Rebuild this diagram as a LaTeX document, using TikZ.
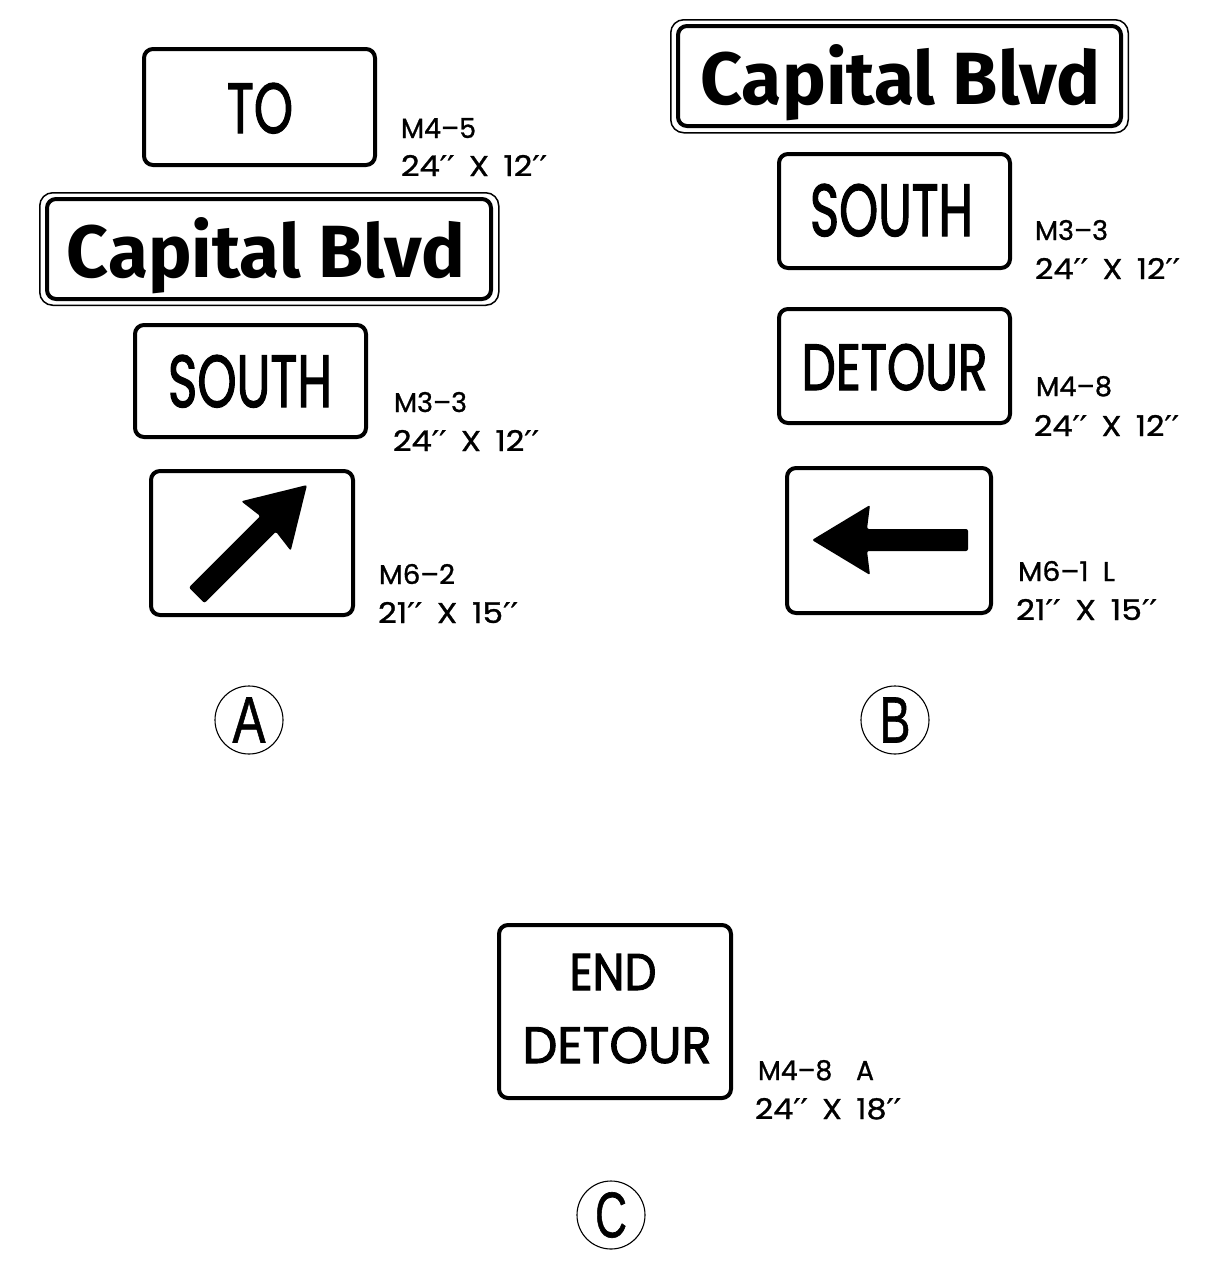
\documentclass[tikz,border=0pt]{standalone}
\usepackage{fontspec}
\usepackage{graphicx}
\newfontfamily\lblfont[FakeBold=1]{Poppins}
\newfontfamily\signfont[FakeBold=2]{Poppins}
\newfontfamily\blvdfont{Fira Sans}
\newfontfamily\circfont[FakeBold=1]{Liberation Sans}
\newfontfamily\primefont[FakeBold=1]{DejaVu Sans}
\newcommand\fitbox[3]{\resizebox{#1pt}{#2pt}{#3}}
\newcommand\pr{{\primefont ′′}}
\newcommand\gap{\hspace{0.45em}}
\begin{document}
\begin{tikzpicture}[x=1pt,y=-1pt,
  signbox/.style={draw=black, line width=4pt, rounded corners=9pt, fill=white, inner sep=0pt},
  outerbox/.style={draw=black, line width=1.5pt, rounded corners=13pt, inner sep=0pt},
  signtext/.style={inner sep=0pt, outer sep=0pt, anchor=base},
  lbl/.style={inner sep=0pt, outer sep=0pt, anchor=base west},
  tag/.style={circle, draw=black, line width=1.1pt, minimum size=68pt, inner sep=0pt},
  arrowshape/.style={fill=black, rounded corners=2pt}]
\useasboundingbox (0,0) rectangle (1208,1269);

% ---------------- Column A ----------------
\node[signbox, minimum width=231pt, minimum height=116pt] (toA) at (259.5,107) {};
\node[signtext] (toAtxt) at (260,133) {\fitbox{66}{50}{\signfont TO}};
\node[lbl] (toAl1) at (401,138) {\fitbox{75}{20}{\lblfont M4–5}};
\node[lbl] (toAl2) at (401,176) {\fitbox{146}{21}{\lblfont 24\pr\gap X\gap 12\pr}};

\node[outerbox, minimum width=459pt, minimum height=112.5pt] (capAo) at (269.25,249) {};
\node[signbox, minimum width=444pt, minimum height=100pt] (capAi) at (269,249) {};
\node[signtext] (capAtxt) at (266,277) {\fitbox{398}{60}{\blvdfont\bfseries Capital Blvd}};

\node[signbox, minimum width=231pt, minimum height=112pt] (southA) at (250.5,381) {};
\node[signtext] (southAtxt) at (250,407) {\fitbox{164}{52}{\signfont SOUTH}};
\node[lbl] (southAl1) at (394,412) {\fitbox{73}{20}{\lblfont M3–3}};
\node[lbl] (southAl2) at (393,451) {\fitbox{146}{21}{\lblfont 24\pr\gap X\gap 12\pr}};

\node[signbox, minimum width=202pt, minimum height=144pt] (arrA) at (252,543) {};
\begin{scope}[shift={(307,485)}, rotate=45]
  \fill[arrowshape] (0,0) -- (-58,35) -- (-55,11) -- (-156,11) -- (-156,-11) -- (-55,-11) -- (-58,-35) -- cycle;
\end{scope}
\node[lbl] (arrAl1) at (379,584) {\fitbox{76}{20}{\lblfont M6–2}};
\node[lbl] (arrAl2) at (378,623) {\fitbox{140}{21}{\lblfont 21\pr\gap X\gap 15\pr}};

\node[tag] (tagA) at (249,720) {\fitbox{33}{45}{\circfont A}};

% ---------------- Column B ----------------
\node[outerbox, minimum width=457.5pt, minimum height=113pt] (capBo) at (899.5,76.25) {};
\node[signbox, minimum width=443pt, minimum height=100pt] (capBi) at (899.5,76) {};
\node[signtext] (capBtxt) at (900.5,104) {\fitbox{400}{60}{\blvdfont\bfseries Capital Blvd}};

\node[signbox, minimum width=231pt, minimum height=114pt] (southB) at (894.5,211) {};
\node[signtext] (southBtxt) at (891.5,236) {\fitbox{163}{52}{\signfont SOUTH}};
\node[lbl] (southBl1) at (1035,240) {\fitbox{73}{20}{\lblfont M3–3}};
\node[lbl] (southBl2) at (1035,279) {\fitbox{145}{21}{\lblfont 24\pr\gap X\gap 12\pr}};

\node[signbox, minimum width=231pt, minimum height=114pt] (detB) at (894.5,366) {};
\node[signtext] (detBtxt) at (894.5,390) {\fitbox{186}{46}{\signfont DETOUR}};
\node[lbl] (detBl1) at (1036,396) {\fitbox{76}{20}{\lblfont M4–8}};
\node[lbl] (detBl2) at (1034,436) {\fitbox{145}{21}{\lblfont 24\pr\gap X\gap 12\pr}};

\node[signbox, minimum width=204pt, minimum height=145pt] (arrB) at (889,540.5) {};
\begin{scope}[shift={(812,540)}, rotate=180]
  \fill[arrowshape] (0,0) -- (-58,35) -- (-55,11) -- (-156,11) -- (-156,-11) -- (-55,-11) -- (-58,-35) -- cycle;
\end{scope}
\node[lbl] (arrBl1) at (1018,581) {\fitbox{97}{20}{\lblfont M6–1\hspace{0.5em}L}};
\node[lbl] (arrBl2) at (1016,620) {\fitbox{141}{21}{\lblfont 21\pr\gap X\gap 15\pr}};

\node[tag] (tagB) at (895,720) {\fitbox{31}{45}{\circfont B}};

% ---------------- Column C ----------------
\node[signbox, minimum width=232pt, minimum height=173pt] (endC) at (615,1011.5) {};
\node[signtext] (endCtxt1) at (613,990) {\fitbox{87}{36}{\signfont END}};
\node[signtext] (endCtxt2) at (617,1063) {\fitbox{189}{36}{\signfont DETOUR}};
\node[lbl] (endCl1) at (758,1080) {\fitbox{116}{20}{\lblfont M4–8\gap\gap A}};
\node[lbl] (endCl2) at (755,1119) {\fitbox{146}{21}{\lblfont 24\pr\gap X\gap 18\pr}};

\node[tag] (tagC) at (611,1215) {\fitbox{32}{45}{\circfont C}};
\end{tikzpicture}
\end{document}
